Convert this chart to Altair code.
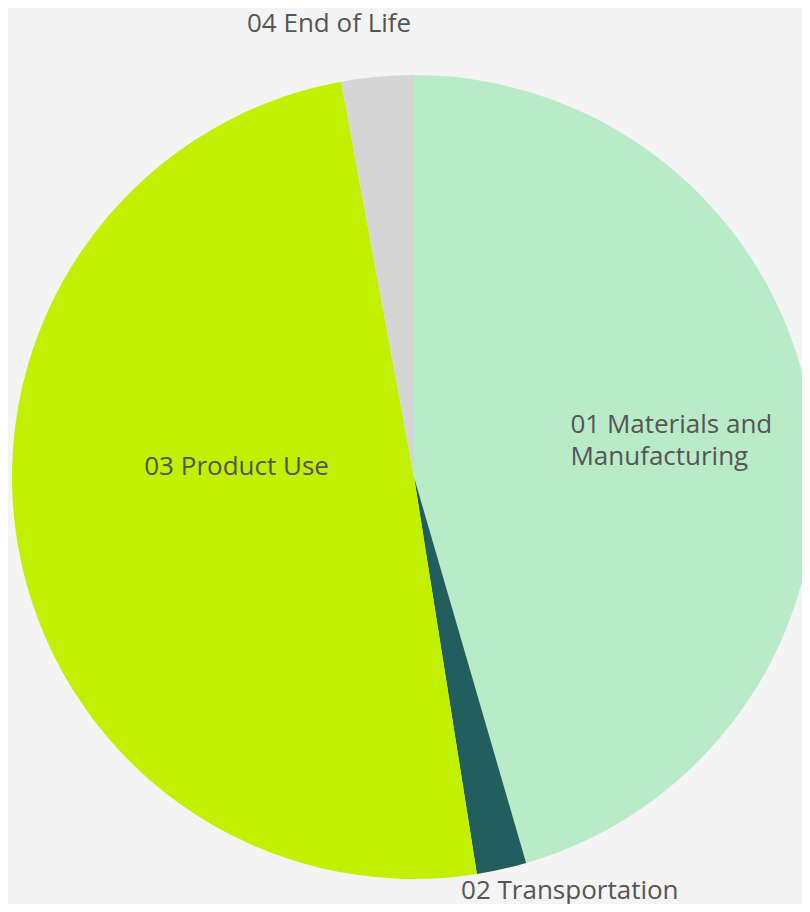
import altair as alt
import pandas as pd

categories = ["01 Materials and Manufacturing", "02 Transportation", "03 Product Use", "04 End of Life"]
label_lines = [["01 Materials and", "Manufacturing"], ["02 Transportation"], ["03 Product Use"], ["04 End of Life"]]
values = [45.5, 2.0, 49.6, 2.9]
colors = ["#b9ebc8", "#235e5e", "#c1f000", "#d5d5d5"]

df = pd.DataFrame({"category": categories, "value": values, "order": list(range(len(categories))),
                   "label": label_lines})

base = alt.Chart(df).encode(
    theta=alt.Theta("value:Q", stack=True),
    order=alt.Order("order:Q"),
)

CX, CY, R = 406, 469, 402

arcs = base.mark_arc(radius=R).encode(
    x=alt.value(CX), y=alt.value(CY),
    color=alt.Color("category:N", scale=alt.Scale(domain=categories, range=colors), legend=None),
)

FONT = "Open Sans"
FS = 26
TC = "#555555"

def label_layer(cat, radius, dx, dy, align):
    return base.mark_text(radius=radius, dx=dx, dy=dy, align=align, baseline="middle",
                          font=FONT, fontSize=FS, color=TC, lineHeight=32).encode(
        x=alt.value(CX), y=alt.value(CY),
        text=alt.condition(alt.datum.category == cat, "label", alt.value("")),
    )

l1 = label_layer(categories[0], 260, -101, -15, "left")
l2 = label_layer(categories[1], 430, 62, -6, "center")
l3 = label_layer(categories[2], 180, 0, -40, "center")
l4 = label_layer(categories[3], 450, -44, -5, "center")

chart = alt.layer(arcs, l1, l2, l3, l4).properties(
    width=794, height=896, background="#f4f4f4", padding=0,
    autosize=alt.AutoSizeParams(type="none"),
).configure_view(stroke=None)

chart.save("out.html", embed_options={"renderer": "svg", "actions": False})
